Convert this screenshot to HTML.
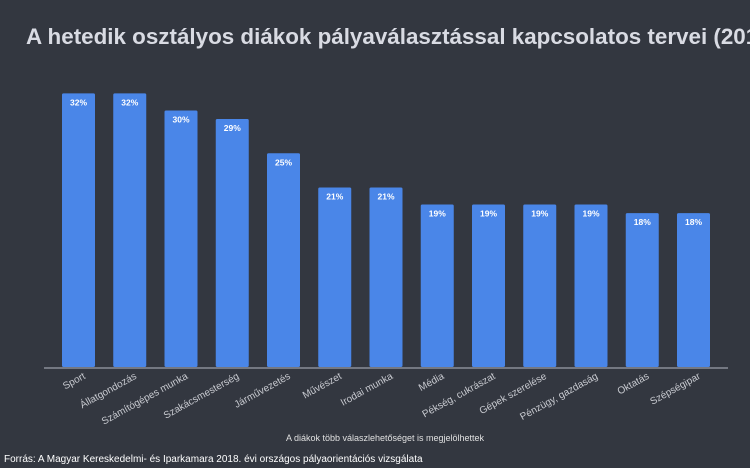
<!DOCTYPE html>
<html><head><meta charset="utf-8"><style>
html,body{margin:0;padding:0;background:#333740;width:750px;height:468px;overflow:hidden}
svg{display:block}
</style></head><body>
<svg width="750" height="468" viewBox="0 0 750 468" xmlns="http://www.w3.org/2000/svg" font-family="Liberation Sans, Arial, sans-serif">
<rect width="750" height="468" fill="#333740"/>
<text x="26" y="44" font-size="22.4" font-weight="bold" fill="#d9dbe3">A hetedik osztályos diákok pályaválasztással kapcsolatos tervei (2018)</text>
<g id="bars" fill="#4a86e8"></g>
<line x1="44" y1="368" x2="728" y2="368" stroke="#9aa0aa" stroke-width="1.2"/>
<g id="labels"></g>
<text x="385" y="441" font-size="9" fill="#e0e0e0" text-anchor="middle">A diákok több válaszlehetőséget is megjelölhettek</text>
<text x="4" y="462" font-size="10" fill="#ffffff">Forrás: A Magyar Kereskedelmi- és Iparkamara 2018. évi országos pályaorientációs vizsgálata</text>
<script>
var d=[["Sport",32],["Állatgondozás",32],["Számítógépes munka",30],["Szakácsmesterség",29],["Járművezetés",25],["Művészet",21],["Irodai munka",21],["Média",19],["Pékség, cukrászat",19],["Gépek szerelése",19],["Pénzügy, gazdaság",19],["Oktatás",18],["Szépségipar",18]];
var ns="http://www.w3.org/2000/svg",b=document.getElementById("bars"),l=document.getElementById("labels");
d.forEach(function(e,i){
 var x=62+i*51.25,h=e[1]*8.55,y=367-h;
 var r=document.createElementNS(ns,"rect");
 r.setAttribute("x",x);r.setAttribute("y",y);r.setAttribute("width",33);r.setAttribute("height",h);r.setAttribute("rx",1.5);
 b.appendChild(r);
 var t=document.createElementNS(ns,"text");
 t.setAttribute("x",x+16.5);t.setAttribute("y",y+12);t.setAttribute("font-size","8.5");t.setAttribute("font-weight","bold");t.setAttribute("fill","#fff");t.setAttribute("text-anchor","middle");
 t.textContent=e[1]+"%";b.appendChild(t);
 var lx=x+24,ly=378;
 var s=document.createElementNS(ns,"text");
 s.setAttribute("x",lx);s.setAttribute("y",ly);s.setAttribute("font-size","10");s.setAttribute("fill","#c8cad0");s.setAttribute("text-anchor","end");
 s.setAttribute("transform","rotate(-29 "+lx+" "+ly+")");
 s.textContent=e[0];l.appendChild(s);
});
</script>
</svg>
</body></html>
